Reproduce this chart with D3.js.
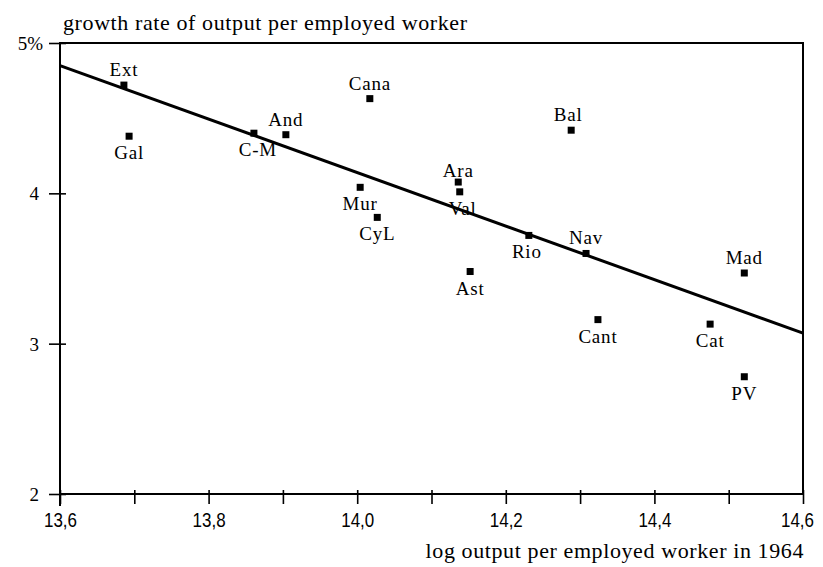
<!DOCTYPE html>
<html>
<head>
<meta charset="utf-8">
<script src="https://cdn.jsdelivr.net/npm/d3@7"></script>
<style>
  body { margin: 0; background: #fff; }
  #canvas { width: 823px; height: 567px; }
</style>
</head>
<body>
<div id="canvas"></div>
<script>
var canvasWidth = 823,
    canvasHeight = 567;

// regions of Spain
var regions = ['Ext','Gal','C-M','And','Cana','Mur','CyL','Ara','Val','Bal','Rio','Nav','Ast','Mad','Cant','Cat','PV'];
var logOutput = [13.686,13.693,13.861,13.904,14.017,14.004,14.027,14.136,14.138,14.288,14.231,14.308,14.152,14.521,14.324,14.475,14.521];
var growth = [4.72,4.38,4.40,4.39,4.63,4.04,3.84,4.075,4.01,4.42,3.72,3.60,3.48,3.47,3.16,3.13,2.78];
// where each label sits: 'a' above, 'b' below
var labelPos = ['a','b','b','a','a','b','b','a','b','a','b','a','b','a','b','b','b'];

// fitted line, end points
var fitX = [13.6, 14.6];
var fitY = [4.85, 3.07];

var xTicks = [13.6,13.7,13.8,13.9,14.0,14.1,14.2,14.3,14.4,14.5,14.6];
var xTickLabels = ['13,6','','13,8','','14,0','','14,2','','14,4','','14,6'];
var yTicks = [2,3,4,5];
var yTickLabels = ['2','3','4','5%'];

var margin = {t:43, r:20, b:73, l:60};
var plotWidth = canvasWidth - margin.l - margin.r,
    plotHeight = canvasHeight - margin.t - margin.b;

var svg = d3.select('#canvas')
  .append('svg')
  .attr('width', canvasWidth)
  .attr('height', canvasHeight);

var plot = svg.append('g')
  .attr('transform', 'translate('+margin.l+','+margin.t+')');

var x = d3.scaleLinear().domain([13.6, 14.6]).range([0, plotWidth]);
var y = d3.scaleLinear().domain([2, 5]).range([plotHeight, 0]);

var serif = '"Liberation Serif", "Times New Roman", serif';
var sans = '"Liberation Sans", Arial, sans-serif';

// frame
plot.append('rect')
  .attr('x', 0).attr('y', 0)
  .attr('width', plotWidth).attr('height', plotHeight)
  .style('fill', 'none')
  .style('stroke', '#000')
  .style('stroke-width', 2);

// left axis runs a bit below the frame
plot.append('line')
  .attr('x1', 0).attr('x2', 0)
  .attr('y1', plotHeight).attr('y2', plotHeight + 12)
  .style('stroke', '#000').style('stroke-width', 2);

// x axis
var xAxis = d3.axisBottom(x)
  .tickValues(xTicks)
  .tickSizeOuter(0)
  .tickFormat(function(d, i){ return xTickLabels[i]; });

var gx = plot.append('g')
  .attr('transform', 'translate(0,'+plotHeight+')')
  .call(xAxis);
gx.select('.domain').remove();
gx.selectAll('.tick line')
  .attr('y1', -4).attr('y2', 10)
  .style('stroke', '#000').style('stroke-width', 1.6);
// narrow look: squeeze the labels a little
gx.selectAll('.tick text')
  .attr('y', 33)
  .attr('dy', 0)
  .attr('x', function(d, i){ return i == xTicks.length - 1 ? -6 : 0; })
  .attr('textLength', function(d, i){ return xTickLabels[i] ? 33 : null; })
  .attr('lengthAdjust', 'spacingAndGlyphs')
  .style('font-family', sans)
  .style('font-size', '21px')
  .style('fill', '#000');

// y axis
var yAxis = d3.axisLeft(y)
  .tickValues(yTicks)
  .tickSizeOuter(0)
  .tickFormat(function(d, i){ return yTickLabels[i]; });

var gy = plot.append('g').call(yAxis);
gy.select('.domain').remove();
gy.selectAll('.tick line')
  .attr('x1', -11).attr('x2', 6)
  .style('stroke', '#000').style('stroke-width', 1.6);
gy.selectAll('.tick text')
  .attr('x', -21)
  .attr('dy', '0.35em')
  .style('text-anchor', 'end')
  .style('font-family', serif)
  .style('font-size', '19px')
  .style('fill', '#000');
gy.selectAll('.tick text')
  .filter(function(d){ return d == 5; })
  .attr('x', -17);

// fitted line
plot.append('line')
  .attr('x1', x(fitX[0])).attr('y1', y(fitY[0]))
  .attr('x2', x(fitX[1])).attr('y2', y(fitY[1]))
  .style('stroke', '#000')
  .style('stroke-width', 3);

// points
var sq = 7;
plot.selectAll('rect.pt')
  .data(regions)
  .enter()
  .append('rect')
  .attr('class', 'pt')
  .attr('x', function(d, i){ return x(logOutput[i]) - sq/2; })
  .attr('y', function(d, i){ return y(growth[i]) - sq/2; })
  .attr('width', sq).attr('height', sq)
  .style('fill', '#000');

plot.selectAll('text.lbl')
  .data(regions)
  .enter()
  .append('text')
  .attr('class', 'lbl')
  .attr('x', function(d, i){
    var dx = 0;
    if (d == 'C-M') dx = 4;
    if (d == 'Rio') dx = -2;
    if (d == 'Val') dx = 3;
    if (d == 'Bal') dx = -3;
    return x(logOutput[i]) + dx;
  })
  .attr('y', function(d, i){
    if (d == 'Ara') return y(growth[i]) - 5;
    return labelPos[i] == 'a' ? y(growth[i]) - 9 : y(growth[i]) + 23;
  })
  .style('text-anchor', 'middle')
  .style('font-family', serif)
  .style('font-size', '19px')
  .style('letter-spacing', '0.8px')
  .style('fill', '#000')
  .text(function(d){ return d; });

// axis titles
svg.append('text')
  .attr('x', 63).attr('y', 30)
  .style('font-family', serif)
  .style('font-size', '22px')
  .style('letter-spacing', '0.6px')
  .text('growth rate of output per employed worker');

svg.append('text')
  .attr('x', 804).attr('y', 558)
  .style('text-anchor', 'end')
  .style('font-family', serif)
  .style('font-size', '22px')
  .style('letter-spacing', '0.6px')
  .text('log output per employed worker in 1964');
</script>
</body>
</html>
